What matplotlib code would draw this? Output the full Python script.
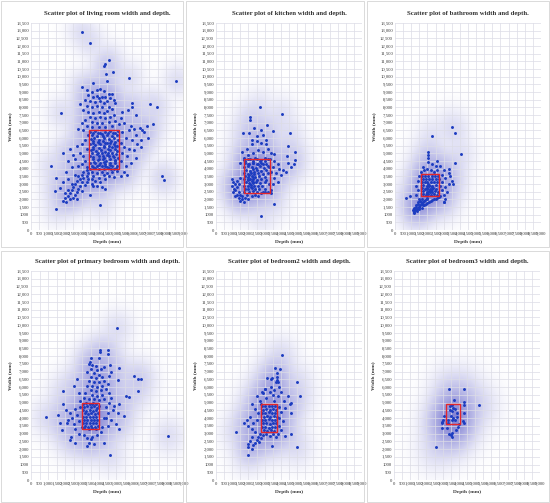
import numpy as np
import matplotlib
matplotlib.use('Agg')
import matplotlib.pyplot as plt
from matplotlib.patches import Rectangle

plt.rcParams['font.family'] = ['Liberation Serif', 'DejaVu Serif']

#%% Data (depth mm, width mm)

titles = ["living room", "kitchen", "bathroom",
          "primary bedroom", "bedroom2", "bedroom3"]

living_pts = [
    # outliers
    (3000, 12900), (3500, 12200), (4600, 11100), (4400, 10800), (4350, 10700), (4850, 10300),
    (4450, 10200), (5800, 9900), (8600, 9700), (4500, 9700), (3700, 9600), (3000, 9350),
    (1800, 7600), (7050, 8250), (7450, 8000), (6000, 8300), (6000, 8050), (5750, 7800),
    (1900, 5000), (1200, 4200), (1400, 2550), (1700, 2750), (1500, 3400), (1500, 1350),
    (4100, 1650), (4400, 2650), (7750, 3500), (7850, 3250), (6450, 6650), (6700, 6400),
    (6850, 6800), (7250, 6900),
    # upper column
    (3300, 9100), (3600, 9000), (3900, 9100), (4100, 9200), (4300, 9050), (4600, 8900),
    (4800, 8850), (3400, 8800), (3700, 8700), (3900, 8750), (4000, 8600), (4200, 8700),
    (4400, 8650), (4700, 8600), (4900, 8500), (3200, 8500), (3500, 8400), (3800, 8350),
    (4100, 8400), (4300, 8300), (4500, 8400), (5000, 8300), (2900, 8200), (3300, 8100),
    (3600, 8000), (3900, 8100), (4200, 8000), (4600, 8050), (4800, 7900), (3100, 7800),
    (3400, 7700), (3700, 7650), (4000, 7700), (4300, 7600), (4500, 7750), (3500, 7400),
    (3800, 7300), (4100, 7400), (4400, 7300), (4700, 7350), (3200, 7200), (3000, 7000),
    (3600, 7050), (3900, 6950), (4200, 7000), (4600, 7050), (5000, 7100), (5300, 7300),
    (4900, 7500), (3300, 6800), (3600, 6700), (4000, 6750), (4400, 6700), (4800, 6800),
    (5200, 6900), (2800, 6600), (3100, 6500),
    # core (inside the box)
    (3500, 6400), (3800, 6450), (4100, 6350), (4400, 6400), (4700, 6450), (5000, 6350),
    (3600, 6200), (3900, 6150), (4200, 6250), (4500, 6200), (4800, 6100), (5100, 6200),
    (3550, 5950), (3750, 6000), (4050, 5900), (4300, 6000), (4600, 5950), (4900, 6000),
    (5150, 5900), (3650, 5800), (3950, 5750), (4250, 5800), (4500, 5700), (4750, 5800),
    (5000, 5750), (3500, 5600), (3800, 5550), (4100, 5600), (4400, 5650), (4600, 5500),
    (4900, 5600), (5100, 5500), (3700, 5400), (4000, 5350), (4300, 5400), (4550, 5300),
    (4800, 5400), (5000, 5300), (3550, 5200), (3850, 5150), (4150, 5200), (4400, 5100),
    (4700, 5200), (5100, 5150), (3600, 5000), (3900, 4950), (4200, 5000), (4500, 4900),
    (4800, 5000), (5050, 4950), (3500, 4800), (3700, 4750), (4000, 4800), (4300, 4700),
    (4600, 4800), (4900, 4750), (5150, 4700), (3650, 4600), (3950, 4550), (4250, 4600),
    (4450, 4500), (4700, 4600), (5000, 4550), (3500, 4400), (3800, 4350), (4100, 4400),
    (4400, 4300), (4650, 4400), (4950, 4350), (3600, 4200), (3900, 4150), (4200, 4200),
    (4500, 4100), (4800, 4200), (5100, 4150), (3500, 4000), (3800, 4050), (4050, 3950),
    (4300, 4000), (4600, 4050), (4900, 3950), (3650, 6300), (3950, 6300), (4250, 6100),
    (4550, 6300), (4850, 6300), (5150, 6450), (3700, 5650), (4000, 5700), (4350, 5500),
    (4650, 5650), (4950, 5450), (3650, 5300), (3950, 5050), (4250, 4850), (4550, 5050),
    (4850, 4850), (3750, 4450), (4050, 4650), (4350, 4450), (4650, 4250), (4950, 4500),
    (3700, 4100), (4000, 4250), (4400, 4150), (4750, 3950), (5050, 4050),
    # lower-left tail
    (3300, 3900), (3100, 3800), (3400, 3700), (3000, 3600), (3300, 3500), (2800, 3500),
    (3100, 3400), (2900, 3300), (3400, 3300), (2700, 3200), (3000, 3100), (3300, 3100),
    (2600, 3000), (2900, 2900), (3200, 2950), (2500, 2800), (2800, 2700), (2400, 2600),
    (2700, 2500), (3000, 2550), (2300, 2400), (2600, 2300), (2200, 2200), (2500, 2100),
    (2000, 2100), (2300, 2000), (1900, 1900), (2100, 1800), (2700, 2000), (3500, 2300),
    (3700, 2900), (3600, 3300), (2200, 2600), (2000, 2400), (2400, 3000), (2200, 3300),
    (2600, 3600), (1900, 3100),
    # left of the box
    (3300, 4100), (3000, 4300), (3200, 4500), (2800, 4200), (2600, 4600), (3100, 4800),
    (2900, 5000), (3300, 5300), (2500, 4900), (2200, 4500), (3000, 5600), (3200, 5900),
    (2700, 5500), (3400, 6200), (2400, 4100), (2100, 3800), (2300, 5300),
    # right of the box
    (5400, 6400), (5600, 6000), (5300, 5700), (5500, 5400), (5800, 5300), (5400, 5000),
    (5700, 4800), (5300, 4500), (5600, 4200), (5900, 4400), (6100, 5200), (6300, 5600),
    (6000, 5900), (6200, 6200), (5800, 6500), (6500, 5900), (6600, 6500), (6200, 4700),
    (5500, 3800), (5300, 3500), (5700, 3600), (5900, 6800), (5500, 7000), (6200, 7500),
    (5400, 7700), (6500, 5400), (6100, 6600), (6900, 6000),
    # below the box
    (3600, 3800), (3900, 3700), (4200, 3800), (4500, 3750), (4800, 3800), (5100, 3850),
    (3700, 3500), (4000, 3400), (4300, 3600), (4600, 3500), (4900, 3450), (3800, 3200),
    (4100, 3100), (4400, 3300), (3600, 3000), (3900, 2900), (4200, 2800),
]

kitchen_pts = [
    # outliers
    (2700, 8000), (4050, 7550), (2100, 7400), (2100, 7150), (2350, 6650), (1650, 6350),
    (2050, 6350), (3150, 6850), (2800, 6500), (3500, 6450), (4550, 6350), (3600, 4950),
    (4450, 5450), (4850, 5100), (4900, 4550), (4400, 4800), (4450, 4400), (4150, 3900),
    (3900, 4000), (3600, 1700), (2800, 900), (3400, 2400),
    # upper part
    (1600, 5100), (1900, 5300), (2200, 5600), (2500, 5800), (2800, 5700), (3100, 5900),
    (2000, 4900), (2300, 5000), (2600, 5200), (2900, 5100), (3200, 5300), (3400, 5000),
    (1700, 4700), (1800, 4500), (2100, 4600), (2400, 4700), (2700, 4500), (3000, 4700),
    (3300, 4600), (3600, 4500), (1500, 4400), (2000, 4300), (2300, 4400), (2600, 4300),
    (2900, 4300), (3200, 4200), (3500, 4100), (3800, 4300), (2500, 6100), (2900, 6200),
    (3100, 5600), (2200, 5900),
    # core (inside the box)
    (1750, 4550), (2000, 4600), (2250, 4500), (2500, 4600), (2750, 4550), (3000, 4500),
    (3200, 4600), (1800, 4350), (2050, 4300), (2300, 4400), (2550, 4300), (2800, 4350),
    (3100, 4300), (1750, 4100), (1950, 4150), (2200, 4100), (2450, 4050), (2700, 4150),
    (2950, 4050), (3250, 4100), (1850, 3900), (2100, 3850), (2300, 3950), (2550, 3900),
    (2800, 3850), (3100, 3900), (1750, 3700), (1950, 3650), (2150, 3750), (2350, 3650),
    (2600, 3700), (2900, 3650), (3200, 3700), (1800, 3500), (2000, 3450), (2200, 3550),
    (2400, 3450), (2650, 3500), (3000, 3450), (1750, 3300), (1950, 3250), (2100, 3350),
    (2300, 3300), (2500, 3250), (2750, 3300), (3100, 3250), (1850, 3100), (2050, 3050),
    (2250, 3150), (2450, 3100), (2700, 3050), (3000, 3100), (3250, 3000), (1750, 2900),
    (1950, 2850), (2150, 2950), (2350, 2900), (2600, 2850), (2850, 2900), (1800, 2700),
    (2000, 2650), (2200, 2750), (2400, 2700), (2650, 2650), (3000, 2700), (1750, 2500),
    (2050, 2450), (2300, 2550), (2550, 2500), (2900, 2450), (3200, 2500), (2100, 3000),
    (2200, 3200), (2000, 3300), (2300, 3050), (2150, 2800), (2250, 3450), (2050, 3600),
    (2350, 3800),
    # left column, tail and right side
    (1000, 3300), (1050, 3100), (1000, 2900), (1100, 2700), (1050, 2500), (1200, 3000),
    (1200, 2600), (1300, 3200), (1300, 2800), (1400, 2500), (1400, 3000), (1500, 3400),
    (1500, 2300), (1400, 2100), (1600, 2000), (1500, 1900), (1700, 1800), (1800, 2100),
    (1900, 2300), (1600, 2200), (1300, 2300), (1200, 2200), (2000, 2000), (2200, 2200),
    (2400, 2300), (2600, 2200), (2800, 2400), (3000, 2500), (3400, 2600), (3500, 3000),
    (3600, 3400), (3700, 3700), (3400, 3800), (3800, 3100), (4000, 3600), (4300, 3800),
    (4600, 4100), (4800, 4300),
]

bathroom_pts = [
    # outliers
    (3500, 6750), (3700, 6350), (2300, 6150), (4050, 4950), (3700, 4350), (700, 2100),
    (950, 2200), (3050, 1850), (1200, 1100),
    # upper part
    (1600, 3800), (1800, 3900), (2000, 4000), (2200, 3900), (2400, 3800), (2600, 3900),
    (1700, 4100), (2300, 4300), (2050, 4450), (2050, 4700), (2050, 4900), (2050, 5100),
    (2500, 4200), (2600, 4500), (2800, 4200), (3000, 3900), (3300, 4000),
    # core (inside the box)
    (1650, 3550), (1850, 3500), (2050, 3550), (2250, 3500), (2450, 3550), (2650, 3500),
    (1700, 3350), (1900, 3300), (2100, 3350), (2300, 3300), (2500, 3350), (1650, 3150),
    (1850, 3100), (2000, 3150), (2200, 3100), (2400, 3150), (2600, 3100), (1750, 2950),
    (1950, 2900), (2100, 2950), (2300, 2900), (2500, 2950), (1650, 2750), (1850, 2700),
    (2000, 2750), (2150, 2700), (2350, 2750), (2550, 2700), (1750, 2550), (1950, 2500),
    (2100, 2550), (2250, 2500), (2450, 2550), (2650, 2500), (1700, 2350), (1900, 2300),
    (2050, 2350), (2200, 2300), (2400, 2350), (2600, 2300), (2000, 2650), (2100, 2850),
    (2200, 2600), (2050, 3000), (2250, 2800), (1950, 2400), (2150, 2450), (2300, 2650),
    # left side and lower-left tail
    (1500, 3500), (1400, 3200), (1300, 2900), (1400, 2600), (1300, 2300), (1500, 2000),
    (1600, 1800), (1400, 1700), (1300, 1500), (1200, 1400), (1100, 1300), (1500, 1500),
    (1700, 1600), (1800, 1900), (1900, 1700), (2000, 2000), (2200, 1900), (2400, 2000),
    (1150, 1200), (1250, 1300), (1350, 1400), (1450, 1500), (1550, 1600), (1650, 1700),
    (1750, 1850), (1850, 1950), (1950, 2100), (1200, 1450), (1300, 1600), (1400, 1800),
    (1550, 1900), (1650, 2050), (1350, 1250), (1500, 1350), (1650, 1450), (1800, 1600),
    (1950, 1750), (2100, 1850), (2300, 1950), (2500, 2050), (2700, 2150),
    # right side
    (2600, 2100), (2800, 2200), (3000, 2300), (2900, 2600), (3100, 2800), (3300, 3000),
    (3500, 3200), (3400, 3500), (3300, 3700), (3100, 3400), (2900, 3100), (3600, 3000),
    (3200, 2500), (2800, 2900), (2700, 3300), (2900, 3600), (3100, 2000), (3000, 1800),
]

primary_pts = [
    # outliers
    (5050, 9800), (4050, 8400), (4050, 8250), (4500, 8400), (4500, 8150), (4650, 7400),
    (5150, 7250), (3500, 7850), (3450, 7600), (4000, 7850), (6050, 6750), (6300, 6550),
    (6450, 6550), (6300, 5750), (5100, 6450), (5600, 5400), (5750, 5350), (1900, 5750),
    (900, 4050), (1800, 3250), (2350, 2800), (2600, 2400), (3550, 2650), (4650, 1600),
    (8050, 2850), (5150, 3300), (5450, 4150), (1900, 4900), (2050, 4500), (2100, 3700),
    # upper column
    (3400, 7500), (3600, 7450), (3800, 7350), (3500, 7200), (3900, 7100), (4100, 7150),
    (3300, 7000), (3700, 6900), (4000, 6800), (3500, 6650), (3800, 6600), (4200, 6650),
    (3400, 6400), (3700, 6300), (4000, 6350), (4300, 6400), (3300, 6100), (3600, 6050),
    (3900, 6000), (4200, 6100), (4500, 6200), (3500, 5800), (3800, 5750), (4100, 5800),
    (4400, 5900), (3200, 5600), (3600, 5500), (3900, 5450), (4200, 5500), (4600, 5600),
    (3400, 5250), (3700, 5200), (4000, 5150), (4300, 5250), (4700, 5300), (3100, 5300),
    (2900, 5100), (2800, 5600), (2500, 6100), (2700, 6500), (4600, 6700), (4300, 7300),
    (4700, 7000),
    # core (inside the box)
    (3050, 4900), (3250, 4950), (3450, 4900), (3650, 4950), (3850, 4900), (3100, 4700),
    (3300, 4750), (3500, 4700), (3700, 4750), (3900, 4650), (3050, 4500), (3250, 4450),
    (3450, 4550), (3650, 4450), (3850, 4500), (3150, 4300), (3350, 4250), (3550, 4300),
    (3750, 4250), (3950, 4300), (3050, 4100), (3250, 4050), (3450, 4100), (3650, 4050),
    (3850, 4100), (3100, 3900), (3300, 3850), (3500, 3900), (3700, 3850), (3900, 3900),
    (3050, 3700), (3250, 3650), (3450, 3700), (3650, 3650), (3850, 3700), (3150, 3500),
    (3350, 3450), (3550, 3500), (3750, 3450), (3950, 3500), (3100, 3350), (3400, 3300),
    (3600, 3350), (3850, 3300),
    # around the box
    (4600, 5000), (4900, 4800), (5200, 4900), (4400, 4700), (4800, 4500), (5100, 4300),
    (4500, 4300), (4300, 4000), (4700, 3900), (4500, 3500), (4200, 3400), (4100, 3100),
    (3900, 2900), (3600, 2800), (3300, 2700), (3100, 2900), (2800, 3000), (2600, 3300),
    (2500, 3600), (2400, 4000), (2700, 4200), (2600, 4600), (2300, 4300), (2900, 4700),
    (3000, 3400), (2800, 3800), (4400, 4000), (4000, 4800), (3600, 4900), (5000, 3600),
    (2200, 3900), (1700, 3700), (1600, 4200), (2300, 2600), (3400, 2400), (3700, 2300),
    (4300, 2400), (3300, 2200),
]

bedroom2_pts = [
    # outliers
    (4050, 8050), (3650, 7250), (3950, 7150), (3750, 6900), (3750, 6650), (3750, 6450),
    (3850, 6300), (3150, 6600), (3400, 6550), (3450, 6600), (5000, 6350), (5150, 5400),
    (4450, 5450), (4550, 4900), (4650, 4300), (4250, 4650), (4650, 5000), (4250, 2850),
    (5000, 2100), (4650, 2950), (3450, 2200), (1250, 3100), (1750, 3650), (1950, 1600),
    (2000, 2150), (2200, 2000), (3000, 5850), (2850, 5700),
    # core (inside the box)
    (2850, 4800), (3050, 4750), (3250, 4800), (3450, 4750), (3650, 4800), (2900, 4550),
    (3100, 4600), (3300, 4500), (3500, 4600), (3700, 4550), (2850, 4350), (3050, 4300),
    (3250, 4400), (3450, 4300), (3650, 4350), (2950, 4100), (3150, 4150), (3350, 4050),
    (3550, 4150), (3750, 4100), (2850, 3900), (3050, 3850), (3250, 3950), (3450, 3850),
    (3650, 3900), (2900, 3650), (3100, 3700), (3300, 3600), (3500, 3700), (3700, 3650),
    (2850, 3400), (3050, 3450), (3250, 3350), (3450, 3450), (3650, 3400), (2950, 3200),
    (3150, 3150), (3400, 3200), (3600, 3150),
    # lower-left tail and left side
    (2700, 3000), (2600, 2800), (2500, 2600), (2800, 2700), (2400, 2400), (2300, 2250),
    (2100, 2500), (2200, 2800), (2000, 2300), (2650, 2450), (2900, 2900), (3100, 2950),
    (3300, 2850), (3500, 3000), (2400, 3100), (2200, 3300), (2000, 3500), (1900, 3900),
    (2100, 4100), (2300, 3700), (2500, 3900), (2600, 4300), (2400, 4600), (2200, 4900),
    (2700, 5100), (2500, 5400), (2900, 5600), (3000, 5900), (3300, 5700), (3100, 5300),
    (2800, 4900),
    # right side
    (3900, 4700), (4000, 4400), (3900, 4000), (4100, 3800), (3900, 3500), (4000, 3200),
    (3800, 3000), (3700, 2800), (4200, 5100), (3800, 5400), (3600, 5100), (3500, 5500),
    (3400, 6000), (3700, 6300), (3600, 5800), (4000, 5700), (3900, 6000),
]

bedroom3_pts = [
    (3400, 5850), (4300, 5850), (3700, 5150), (4300, 5050), (4300, 4850), (5250, 4850),
    (4300, 4300), (3450, 4800), (3600, 4850), (3650, 4650), (3450, 4500), (3600, 4450),
    (3750, 4600), (3500, 4150), (3600, 3850), (3750, 3850), (3900, 4050), (3650, 4000),
    (3100, 4150), (3000, 3850), (2950, 3650), (2950, 3750), (3350, 3650), (4250, 3800),
    (4300, 3650), (3950, 3450), (4000, 3600), (2950, 3350), (3250, 3350), (3800, 3250),
    (3400, 3000), (3600, 3050), (3600, 2800), (3500, 2900), (2600, 2100), (3900, 4350),
    (3300, 3900),
]

# summary boxes: depth0, width0, depth1, width1
boxes = [
    (3450, 3950, 5200, 6500),
    (1700, 2400, 3300, 4650),
    (1600, 2200, 2700, 3630),
    (3000, 3270, 4000, 5000),
    (2780, 3100, 3790, 4880),
    (3230, 3590, 4060, 4880),
]

all_pts = [living_pts, kitchen_pts, bathroom_pts,
           primary_pts, bedroom2_pts, bedroom3_pts]

x_max = 9000
y_max = 13500

#%% Plot


def fmt_y(v):
    if v == 1000:
        return "1000"
    return f"{v:,}"


def halo(ax, xs, ys):
    # gaussian density, kernel a bit wider for small samples, drawn as a lavender glow
    k = (len(xs) / 150.0) ** (-1.0 / 6)
    bx, by = 460.0 * k, 580.0 * k
    gx = np.linspace(0, x_max, 300)
    gy = np.linspace(0, y_max, 450)
    kx = np.exp(-0.5 * ((gx[None, :] - xs[:, None]) / bx) ** 2)
    ky = np.exp(-0.5 * ((gy[None, :] - ys[:, None]) / by) ** 2)
    dens = ky.T @ kx
    dens /= dens.max()
    rgba = np.zeros(dens.shape + (4,))
    rgba[..., 0] = 0.36
    rgba[..., 1] = 0.36
    rgba[..., 2] = 0.78
    rgba[..., 3] = 0.75 * dens ** 0.4
    ax.imshow(rgba, extent=(0, x_max, 0, y_max), origin='lower',
              aspect='auto', interpolation='bilinear', zorder=1)


fig = plt.figure(figsize=(5.5, 5.03), dpi=100)

W, H = 550.0, 503.0
# axes boxes in pixels: left, top, right, bottom
ax_px = [
    (31, 23, 183, 230), (216, 23, 362, 230), (395, 23, 541, 230),
    (31, 271, 184, 480), (216, 271, 362, 480), (394, 271, 540, 480),
]
frame_px = [
    (1, 1, 183, 247), (186, 1, 364, 247), (367, 1, 549, 247),
    (1, 251, 183, 502), (186, 251, 364, 502), (367, 251, 549, 502),
]

for i in range(6):
    l, t, r, b = ax_px[i]
    ax = fig.add_axes([l / W, 1 - b / H, (r - l) / W, (b - t) / H])
    pts = np.array(all_pts[i], dtype=float)
    xs, ys = pts[:, 0], pts[:, 1]

    halo(ax, xs, ys)
    ax.scatter(xs, ys, s=4.5, marker='o', color='#1c3cc0', linewidths=0, zorder=3)

    x0, y0, x1, y1 = boxes[i]
    ax.add_patch(Rectangle((x0, y0), x1 - x0, y1 - y0, fill=False,
                           ec='#e3262b', lw=1.0, zorder=4))

    ax.set_xlim(0, x_max)
    ax.set_ylim(0, y_max)
    xt = np.arange(0, x_max + 1, 500)
    yt = np.arange(0, y_max + 1, 500)
    ax.set_xticks(xt)
    ax.set_xticklabels([f"{v:,}" for v in xt])
    ax.set_yticks(yt)
    ax.set_yticklabels([fmt_y(v) for v in yt])
    ax.tick_params(length=0, pad=1.5, labelsize=3.4, labelcolor='#3a3a3a')
    ax.set_axisbelow(False)
    ax.grid(color='#dcdce6', lw=0.5)
    for s in ax.spines.values():
        s.set_visible(False)

    ax.set_title(f"Scatter plot of {titles[i]} width and depth.",
                 fontsize=4.9, fontweight='bold', color='#333333', pad=6)
    ax.set_xlabel("Depth (mm)", fontsize=3.9, fontweight='bold',
                  color='#3a3a3a', labelpad=3)
    ax.set_ylabel("Width (mm)", fontsize=3.9, fontweight='bold',
                  color='#3a3a3a', labelpad=3)

    fl, ft, fr, fb = frame_px[i]
    fig.add_artist(Rectangle((fl / W, 1 - fb / H), (fr - fl) / W, (fb - ft) / H,
                             transform=fig.transFigure, fill=False,
                             ec='#d4d4d4', lw=0.6))

fig.savefig("out.png", dpi=100, facecolor='white')
